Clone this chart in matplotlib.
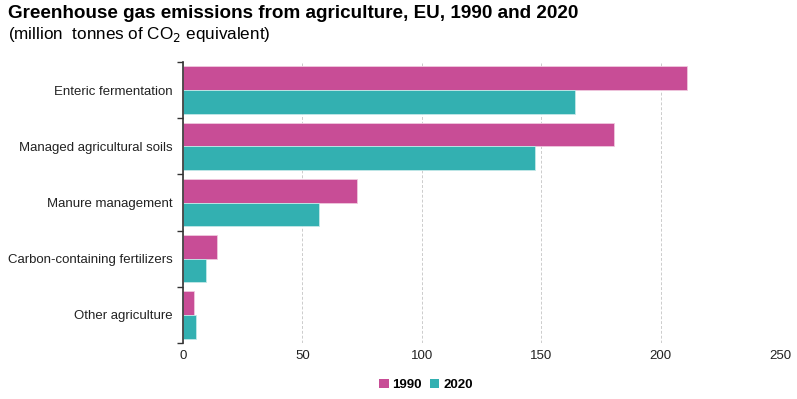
import matplotlib
matplotlib.use("Agg")
import matplotlib.pyplot as plt
import numpy as np
from matplotlib.patches import Patch

plt.rcParams['font.family'] = ['Liberation Sans', 'DejaVu Sans']

categories = ["Enteric fermentation", "Managed agricultural soils", "Manure management",
              "Carbon-containing fertilizers", "Other agriculture"]
v1990 = [211.0, 180.5, 72.8, 14.2, 4.8]
v2020 = [164.2, 147.3, 57.0, 9.6, 5.3]
series_labels = ["1990", "2020"]
colors = ["#C84D96", "#33B0B1"]
xticks = [0, 50, 100, 150, 200, 250]

fig = plt.figure(figsize=(7.97, 3.99), dpi=100)
ax = fig.add_axes([183/797, 1-343/399, (780-183)/797, (343-62)/399])

y = np.arange(len(categories))
h = 0.42
ax.barh(y - h/2, v1990, height=h, color=colors[0], edgecolor="#F0C8DE", linewidth=0.6)
ax.barh(y + h/2, v2020, height=h, color=colors[1], edgecolor="#C4E8E8", linewidth=0.6)

ax.set_ylim(len(categories) - 0.5, -0.5)
ax.set_xlim(0, 250)
ax.set_yticks(y)
ax.set_yticklabels(categories, fontsize=9.5, color="#222222")
ax.set_yticks(np.arange(-0.5, len(categories)), minor=True)
ax.tick_params(axis='y', which='major', length=0, pad=7.5)
ax.tick_params(axis='y', which='minor', length=4, width=1, color="#333333")
ax.set_xticks(xticks)
ax.set_xticklabels([str(t) for t in xticks], fontsize=9.5, color="#222222")
ax.tick_params(axis='x', length=0, pad=5)

for s in ['top', 'right', 'bottom']:
    ax.spines[s].set_visible(False)
ax.spines['left'].set_color("#333333")
ax.spines['left'].set_linewidth(1.2)

ax.set_axisbelow(True)
ax.grid(axis='x', color="#CCCCCC", linestyle=(0, (3, 2)), linewidth=0.7)

fig.text(8/797, 1-13/399, "Greenhouse gas emissions from agriculture, EU, 1990 and 2020",
         fontsize=13.6, fontweight='bold', va='center', ha='left', color="#000000")
fig.text(8/797, 1-34/399, "(million  tonnes of CO$_2$ equivalent)",
         fontsize=12.3, va='center', ha='left', color="#000000")

handles = [Patch(facecolor=c, edgecolor='none') for c in colors]
leg = fig.legend(handles, series_labels, loc='center', bbox_to_anchor=(426/797, 1-385/399),
                 ncol=2, frameon=False, handlelength=0.7, handleheight=0.7,
                 handletextpad=0.3, columnspacing=0.6, prop={'weight': 'bold', 'size': 9.5})

fig.savefig("out.png", dpi=100)
